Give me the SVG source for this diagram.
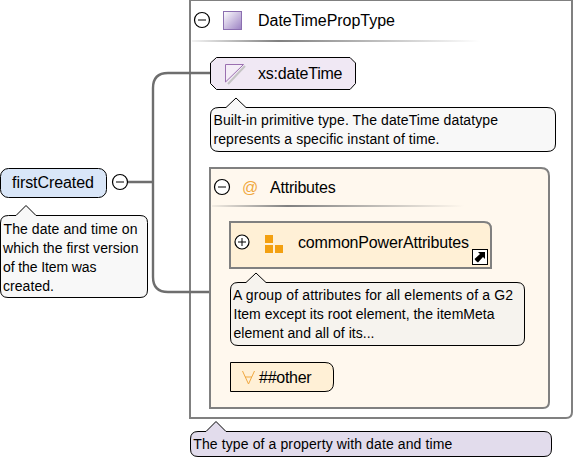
<svg xmlns="http://www.w3.org/2000/svg" width="574" height="460" viewBox="0 0 574 460">
<style>
text{font-family:"Liberation Sans",Arial,sans-serif;fill:#000}
.t{font-size:16px}
.n{font-size:14px}
.note{stroke:#000;stroke-width:1}
.gb{fill:none;stroke:#808080;stroke-width:2}
.c{fill:#fff;stroke:#000;stroke-width:1.200}
.s{fill:none;stroke:#000;stroke-width:1}
.conn{fill:none;stroke:#6e6e6e;stroke-width:2.400}
.o{fill:#f3a011}
</style>
<defs>
<linearGradient id="sep"><stop offset="0" stop-color="#808080" stop-opacity="0.1"/><stop offset="0.3" stop-color="#808080"/><stop offset="1" stop-color="#808080" stop-opacity="0"/></linearGradient>
<linearGradient id="sq" x1="0" y1="0" x2="1" y2="1"><stop offset="0" stop-color="#fff"/><stop offset="1" stop-color="#9a80c2"/></linearGradient>
</defs>
<g id="type-DateTimePropType">
<path class="gb" d="M190,0V418H566Q572,418 572,412V0Z"/>
<circle class="c" cx="202" cy="20" r="7.500"/><path class="s" d="M198,20H206"/>
<rect x="223.500" y="11.500" width="18" height="18" fill="url(#sq)" stroke="#8b6fb0"/>
<text class="t" x="258" y="26" textLength="137">DateTimePropType</text>
<rect x="192" y="40" width="288" height="2" fill="url(#sep)"/>
</g>
<g id="connectors">
<path class="conn" d="M128,182H153M211,73H168Q153,73 153,88V277Q153,292 168,292H210"/>
</g>
<g id="element-firstCreated">
<rect x="0.500" y="168.500" width="106" height="29" rx="8" fill="#d9e6f8" stroke="#000"/>
<text class="t" x="12" y="188" textLength="82">firstCreated</text>
<circle class="c" cx="120" cy="182" r="7.500"/><path class="s" d="M116,182H124"/>
</g>
<g id="note-firstCreated">
<path class="note" fill="#f8f8f8" d="M8.500,215.500H16L26,205.500L36,215.500H140Q147.500,215.500 147.500,222.500V290Q147.500,297.500 140,297.500H8Q0.500,297.500 0.500,290V223Q0.500,215.500 8.500,215.500Z"/>
<text class="n" x="3.500" y="234" textLength="134">The date and time on</text>
<text class="n" x="3" y="253" textLength="135.500">which the first version</text>
<text class="n" x="3" y="272" textLength="93.500">of the Item was</text>
<text class="n" x="3" y="291" textLength="51">created.</text>
</g>
<g id="simple-dateTime">
<path fill="#f0e8f4" stroke="#000" d="M216.500,57.500H350L355.500,63V83.500L350,89.500H216.500L210.500,83.500V63Z"/>
<path fill="none" stroke="#c4c4c4" stroke-width="2" d="M245,66L228,84"/>
<path fill="#fff8ff" fill-opacity="0.3" stroke="#9a6fb0" d="M225.500,64.500H243.500L225.500,82Z"/>
<text class="t" x="258" y="79" textLength="84.500">xs:dateTime</text>
</g>
<g id="note-dateTime">
<path class="note" fill="#f8f8f8" d="M219,107.500H226L236,98L246,107.500H547Q555.500,107.500 555.500,115V144Q555.500,151.500 547,151.500H219Q210.500,151.500 210.500,144V115Q210.500,107.500 219,107.500Z"/>
<text class="n" x="213.500" y="125" textLength="284.500">Built-in primitive type. The dateTime datatype</text>
<text class="n" x="213.500" y="144" textLength="226">represents a specific instant of time.</text>
</g>
<g id="attributes">
<path fill="#fff8ee" stroke="#808080" stroke-width="2" d="M210,168H541Q549,168 549,176V402Q549,408 543,408H210Z"/>
<circle class="c" cx="222" cy="187" r="7.500"/><path class="s" d="M218,187H226"/>
<text x="242" y="193" font-size="16" style="fill:#f0a840">@</text>
<text class="t" x="270" y="193" textLength="65.700">Attributes</text>
<rect x="212" y="205" width="252" height="2" fill="url(#sep)"/>
</g>
<g id="group-commonPowerAttributes">
<path fill="#fff0d6" stroke="#808080" stroke-width="2" d="M230,222H484Q491,222 491,229V268H230Z"/>
<circle class="c" cx="242" cy="242" r="7"/><path class="s" d="M238,242H246M242,238V246"/>
<rect class="o" x="265" y="235" width="8" height="8"/><rect class="o" x="265" y="245" width="8" height="8"/><rect class="o" x="275" y="245" width="8" height="8"/>
<text class="t" x="298" y="248" textLength="171">commonPowerAttributes</text>
<rect x="472.500" y="249.500" width="15" height="15" fill="#fff" stroke="#000"/>
<path fill="#000" d="M476,261L474.500,259L480,254L478,252H485V259L483,257L478,262.500Z"/>
</g>
<g id="note-commonPowerAttributes">
<path class="note" fill="#f6f3ee" d="M238,282.500H246L256,273L266,282.500H517Q524.500,282.500 524.500,290V338Q524.500,345.500 517,345.500H238Q230.500,345.500 230.500,338V290Q230.500,282.500 238,282.500Z"/>
<text class="n" x="233" y="300" textLength="280">A group of attributes for all elements of a G2</text>
<text class="n" x="233.500" y="319" textLength="261">Item except its root element, the itemMeta</text>
<text class="n" x="233.500" y="338" textLength="141">element and all of its...</text>
</g>
<g id="any-other">
<path fill="#fff0d6" stroke="#000" d="M230.500,362.500H325Q333.500,362.500 333.500,371V383Q333.500,391.500 325,391.500H230.500Z"/>
<path fill="none" stroke="#f0a840" d="M242.500,371L248.500,384L254.500,371M245,377H252"/>
<text class="t" x="259" y="383" textLength="52.700">##other</text>
</g>
<g id="note-type">
<path class="note" fill="#e2dcec" d="M198,431.500H206L216,421.500L226,431.500H544Q551.500,431.500 551.500,439V449Q551.500,456.500 544,456.500H198Q190.500,456.500 190.500,449V439Q190.500,431.500 198,431.500Z"/>
<text class="n" x="193.300" y="449" textLength="259">The type of a property with date and time</text>
</g>
</svg>
